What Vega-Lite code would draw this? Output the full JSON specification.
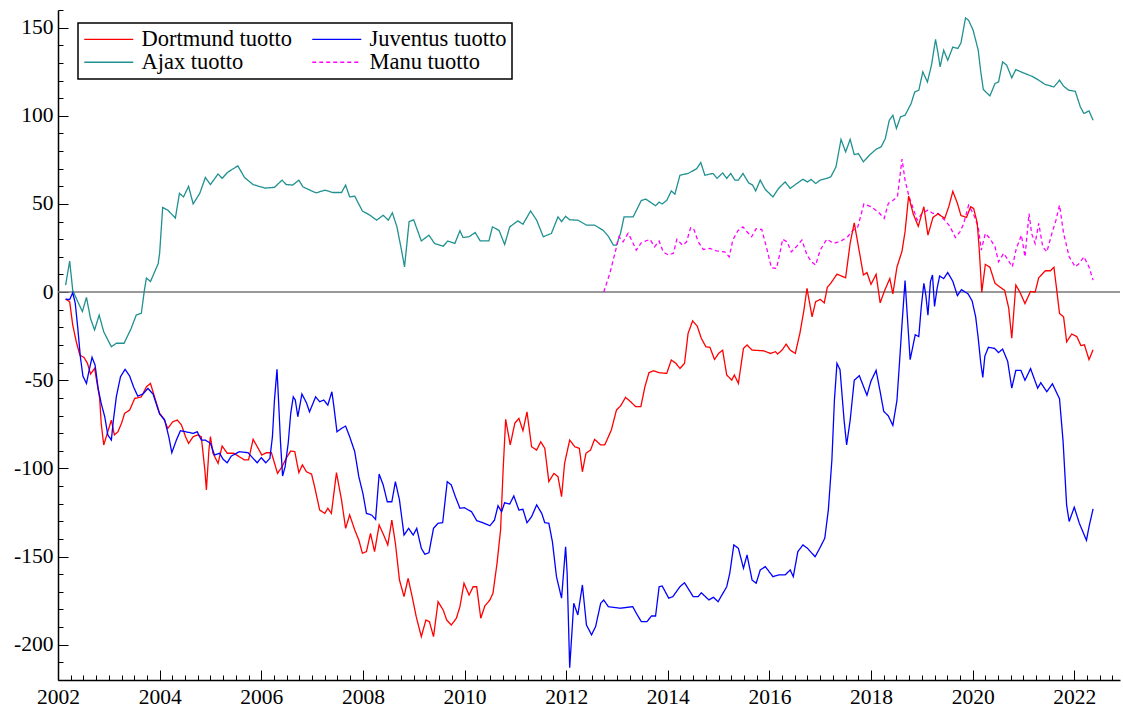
{
"$schema": "https://vega.github.io/schema/vega-lite/v6.json",
"width": 1062, "height": 670,
"autosize": {"type": "none"},
"padding": {"left": 58, "top": 10, "right": 3, "bottom": 28},
"background": "white",
"config": {"view": {"stroke": null}, "font": "Liberation Serif", "legend": {"strokeWidth": 1.5, "labelFont": "Liberation Serif", "labelFontSize": 22.5, "labelColor": "#000000"}},
"datasets": {"d": [
{"s":"Ajax tuotto","t":2002.15,"v":4},{"s":"Ajax tuotto","t":2002.23,"v":17.6},{"s":"Ajax tuotto","t":2002.29,"v":1},{"s":"Ajax tuotto","t":2002.39,"v":-5.5},{"s":"Ajax tuotto","t":2002.48,"v":-11},{"s":"Ajax tuotto","t":2002.56,"v":-3},{"s":"Ajax tuotto","t":2002.64,"v":-15},{"s":"Ajax tuotto","t":2002.72,"v":-21.5},{"s":"Ajax tuotto","t":2002.81,"v":-13},{"s":"Ajax tuotto","t":2002.9,"v":-22.5},{"s":"Ajax tuotto","t":2003.05,"v":-31},{"s":"Ajax tuotto","t":2003.15,"v":-29},{"s":"Ajax tuotto","t":2003.3,"v":-29},{"s":"Ajax tuotto","t":2003.44,"v":-20.6},{"s":"Ajax tuotto","t":2003.54,"v":-13},{"s":"Ajax tuotto","t":2003.64,"v":-12},{"s":"Ajax tuotto","t":2003.7,"v":1},{"s":"Ajax tuotto","t":2003.74,"v":8},{"s":"Ajax tuotto","t":2003.82,"v":6},{"s":"Ajax tuotto","t":2003.97,"v":16},{"s":"Ajax tuotto","t":2004.0,"v":22},{"s":"Ajax tuotto","t":2004.06,"v":48},{"s":"Ajax tuotto","t":2004.16,"v":46.5},{"s":"Ajax tuotto","t":2004.31,"v":42},{"s":"Ajax tuotto","t":2004.39,"v":56},{"s":"Ajax tuotto","t":2004.47,"v":54},{"s":"Ajax tuotto","t":2004.57,"v":60},{"s":"Ajax tuotto","t":2004.66,"v":50},{"s":"Ajax tuotto","t":2004.79,"v":56},{"s":"Ajax tuotto","t":2004.9,"v":65},{"s":"Ajax tuotto","t":2005.0,"v":61},{"s":"Ajax tuotto","t":2005.15,"v":67},{"s":"Ajax tuotto","t":2005.23,"v":64.5},{"s":"Ajax tuotto","t":2005.34,"v":68},{"s":"Ajax tuotto","t":2005.54,"v":71.6},{"s":"Ajax tuotto","t":2005.67,"v":65},{"s":"Ajax tuotto","t":2005.84,"v":61},{"s":"Ajax tuotto","t":2006.07,"v":59},{"s":"Ajax tuotto","t":2006.26,"v":59.4},{"s":"Ajax tuotto","t":2006.41,"v":63.5},{"s":"Ajax tuotto","t":2006.49,"v":61},{"s":"Ajax tuotto","t":2006.62,"v":60.7},{"s":"Ajax tuotto","t":2006.74,"v":63.5},{"s":"Ajax tuotto","t":2006.82,"v":59.7},{"s":"Ajax tuotto","t":2006.99,"v":57.4},{"s":"Ajax tuotto","t":2007.08,"v":56.3},{"s":"Ajax tuotto","t":2007.25,"v":57.8},{"s":"Ajax tuotto","t":2007.41,"v":56.5},{"s":"Ajax tuotto","t":2007.58,"v":56.5},{"s":"Ajax tuotto","t":2007.66,"v":60.7},{"s":"Ajax tuotto","t":2007.74,"v":54},{"s":"Ajax tuotto","t":2007.84,"v":54.4},{"s":"Ajax tuotto","t":2007.99,"v":46},{"s":"Ajax tuotto","t":2008.14,"v":43.6},{"s":"Ajax tuotto","t":2008.27,"v":40.8},{"s":"Ajax tuotto","t":2008.4,"v":43.6},{"s":"Ajax tuotto","t":2008.5,"v":40.8},{"s":"Ajax tuotto","t":2008.58,"v":45},{"s":"Ajax tuotto","t":2008.67,"v":37},{"s":"Ajax tuotto","t":2008.76,"v":23.8},{"s":"Ajax tuotto","t":2008.82,"v":14.3},{"s":"Ajax tuotto","t":2008.91,"v":40},{"s":"Ajax tuotto","t":2009.0,"v":41},{"s":"Ajax tuotto","t":2009.15,"v":29},{"s":"Ajax tuotto","t":2009.3,"v":32.3},{"s":"Ajax tuotto","t":2009.41,"v":27.6},{"s":"Ajax tuotto","t":2009.58,"v":26},{"s":"Ajax tuotto","t":2009.67,"v":29},{"s":"Ajax tuotto","t":2009.81,"v":27.6},{"s":"Ajax tuotto","t":2009.91,"v":34.8},{"s":"Ajax tuotto","t":2009.97,"v":31},{"s":"Ajax tuotto","t":2010.09,"v":31.4},{"s":"Ajax tuotto","t":2010.21,"v":33.8},{"s":"Ajax tuotto","t":2010.31,"v":29},{"s":"Ajax tuotto","t":2010.48,"v":29},{"s":"Ajax tuotto","t":2010.55,"v":37},{"s":"Ajax tuotto","t":2010.68,"v":35},{"s":"Ajax tuotto","t":2010.79,"v":27},{"s":"Ajax tuotto","t":2010.89,"v":37},{"s":"Ajax tuotto","t":2011.05,"v":40.4},{"s":"Ajax tuotto","t":2011.15,"v":38.5},{"s":"Ajax tuotto","t":2011.3,"v":46},{"s":"Ajax tuotto","t":2011.42,"v":40.8},{"s":"Ajax tuotto","t":2011.55,"v":31.4},{"s":"Ajax tuotto","t":2011.71,"v":33.3},{"s":"Ajax tuotto","t":2011.84,"v":42.7},{"s":"Ajax tuotto","t":2011.91,"v":40},{"s":"Ajax tuotto","t":2011.99,"v":43},{"s":"Ajax tuotto","t":2012.07,"v":41},{"s":"Ajax tuotto","t":2012.23,"v":40.8},{"s":"Ajax tuotto","t":2012.4,"v":38},{"s":"Ajax tuotto","t":2012.56,"v":38},{"s":"Ajax tuotto","t":2012.73,"v":35},{"s":"Ajax tuotto","t":2012.83,"v":31.7},{"s":"Ajax tuotto","t":2012.93,"v":26.6},{"s":"Ajax tuotto","t":2012.99,"v":26.6},{"s":"Ajax tuotto","t":2013.07,"v":33.3},{"s":"Ajax tuotto","t":2013.14,"v":42.7},{"s":"Ajax tuotto","t":2013.32,"v":42.7},{"s":"Ajax tuotto","t":2013.48,"v":52},{"s":"Ajax tuotto","t":2013.57,"v":52.7},{"s":"Ajax tuotto","t":2013.76,"v":49},{"s":"Ajax tuotto","t":2013.83,"v":51},{"s":"Ajax tuotto","t":2013.89,"v":50},{"s":"Ajax tuotto","t":2013.98,"v":52},{"s":"Ajax tuotto","t":2014.07,"v":57.4},{"s":"Ajax tuotto","t":2014.14,"v":55.5},{"s":"Ajax tuotto","t":2014.24,"v":66.3},{"s":"Ajax tuotto","t":2014.4,"v":67.3},{"s":"Ajax tuotto","t":2014.57,"v":70},{"s":"Ajax tuotto","t":2014.65,"v":73.5},{"s":"Ajax tuotto","t":2014.73,"v":66.3},{"s":"Ajax tuotto","t":2014.89,"v":67.3},{"s":"Ajax tuotto","t":2014.97,"v":64.5},{"s":"Ajax tuotto","t":2015.08,"v":67.6},{"s":"Ajax tuotto","t":2015.16,"v":64.5},{"s":"Ajax tuotto","t":2015.24,"v":67.3},{"s":"Ajax tuotto","t":2015.32,"v":63.5},{"s":"Ajax tuotto","t":2015.39,"v":63.5},{"s":"Ajax tuotto","t":2015.48,"v":67.3},{"s":"Ajax tuotto","t":2015.59,"v":62},{"s":"Ajax tuotto","t":2015.67,"v":60.7},{"s":"Ajax tuotto","t":2015.73,"v":57.4},{"s":"Ajax tuotto","t":2015.82,"v":63.5},{"s":"Ajax tuotto","t":2015.92,"v":58.2},{"s":"Ajax tuotto","t":2016.07,"v":54},{"s":"Ajax tuotto","t":2016.18,"v":58.8},{"s":"Ajax tuotto","t":2016.31,"v":62.5},{"s":"Ajax tuotto","t":2016.41,"v":58.8},{"s":"Ajax tuotto","t":2016.54,"v":61.6},{"s":"Ajax tuotto","t":2016.66,"v":64},{"s":"Ajax tuotto","t":2016.75,"v":62.5},{"s":"Ajax tuotto","t":2016.82,"v":63.9},{"s":"Ajax tuotto","t":2016.91,"v":61.6},{"s":"Ajax tuotto","t":2017.0,"v":63.5},{"s":"Ajax tuotto","t":2017.13,"v":64.5},{"s":"Ajax tuotto","t":2017.21,"v":65.4},{"s":"Ajax tuotto","t":2017.31,"v":71},{"s":"Ajax tuotto","t":2017.41,"v":86.6},{"s":"Ajax tuotto","t":2017.5,"v":79.5},{"s":"Ajax tuotto","t":2017.59,"v":86.6},{"s":"Ajax tuotto","t":2017.67,"v":78},{"s":"Ajax tuotto","t":2017.75,"v":78.6},{"s":"Ajax tuotto","t":2017.85,"v":73.9},{"s":"Ajax tuotto","t":2017.97,"v":77.7},{"s":"Ajax tuotto","t":2018.1,"v":81},{"s":"Ajax tuotto","t":2018.2,"v":82.4},{"s":"Ajax tuotto","t":2018.28,"v":87},{"s":"Ajax tuotto","t":2018.36,"v":97.5},{"s":"Ajax tuotto","t":2018.43,"v":100.3},{"s":"Ajax tuotto","t":2018.5,"v":92.8},{"s":"Ajax tuotto","t":2018.58,"v":99.4},{"s":"Ajax tuotto","t":2018.67,"v":100.3},{"s":"Ajax tuotto","t":2018.79,"v":107},{"s":"Ajax tuotto","t":2018.86,"v":113.5},{"s":"Ajax tuotto","t":2018.94,"v":114.5},{"s":"Ajax tuotto","t":2019.02,"v":124.9},{"s":"Ajax tuotto","t":2019.11,"v":119.2},{"s":"Ajax tuotto","t":2019.19,"v":128.7},{"s":"Ajax tuotto","t":2019.27,"v":143.3},{"s":"Ajax tuotto","t":2019.32,"v":135.3},{"s":"Ajax tuotto","t":2019.36,"v":127.7},{"s":"Ajax tuotto","t":2019.43,"v":137.2},{"s":"Ajax tuotto","t":2019.51,"v":131.5},{"s":"Ajax tuotto","t":2019.61,"v":139},{"s":"Ajax tuotto","t":2019.71,"v":138.2},{"s":"Ajax tuotto","t":2019.77,"v":141.3},{"s":"Ajax tuotto","t":2019.86,"v":155.5},{"s":"Ajax tuotto","t":2019.92,"v":154.2},{"s":"Ajax tuotto","t":2020.01,"v":148.5},{"s":"Ajax tuotto","t":2020.11,"v":137.2},{"s":"Ajax tuotto","t":2020.16,"v":124.9},{"s":"Ajax tuotto","t":2020.21,"v":114.9},{"s":"Ajax tuotto","t":2020.34,"v":111.3},{"s":"Ajax tuotto","t":2020.44,"v":118.3},{"s":"Ajax tuotto","t":2020.51,"v":119.2},{"s":"Ajax tuotto","t":2020.59,"v":130.6},{"s":"Ajax tuotto","t":2020.67,"v":128.7},{"s":"Ajax tuotto","t":2020.77,"v":121.5},{"s":"Ajax tuotto","t":2020.85,"v":126.2},{"s":"Ajax tuotto","t":2021.0,"v":124.3},{"s":"Ajax tuotto","t":2021.17,"v":122.4},{"s":"Ajax tuotto","t":2021.3,"v":120.2},{"s":"Ajax tuotto","t":2021.43,"v":117.7},{"s":"Ajax tuotto","t":2021.6,"v":116.4},{"s":"Ajax tuotto","t":2021.71,"v":120.2},{"s":"Ajax tuotto","t":2021.79,"v":116.8},{"s":"Ajax tuotto","t":2021.89,"v":114.5},{"s":"Ajax tuotto","t":2022.02,"v":113.9},{"s":"Ajax tuotto","t":2022.12,"v":105},{"s":"Ajax tuotto","t":2022.19,"v":101.3},{"s":"Ajax tuotto","t":2022.29,"v":102.8},{"s":"Ajax tuotto","t":2022.37,"v":97.5},
{"s":"Manu tuotto","t":2012.74,"v":0},{"s":"Manu tuotto","t":2012.86,"v":10.6},{"s":"Manu tuotto","t":2012.96,"v":22},{"s":"Manu tuotto","t":2013.04,"v":31.4},{"s":"Manu tuotto","t":2013.12,"v":28.5},{"s":"Manu tuotto","t":2013.22,"v":33.3},{"s":"Manu tuotto","t":2013.29,"v":29.5},{"s":"Manu tuotto","t":2013.38,"v":23.8},{"s":"Manu tuotto","t":2013.48,"v":28},{"s":"Manu tuotto","t":2013.65,"v":29.9},{"s":"Manu tuotto","t":2013.74,"v":25.7},{"s":"Manu tuotto","t":2013.83,"v":29},{"s":"Manu tuotto","t":2013.91,"v":22.8},{"s":"Manu tuotto","t":2014.01,"v":21},{"s":"Manu tuotto","t":2014.11,"v":22},{"s":"Manu tuotto","t":2014.18,"v":30},{"s":"Manu tuotto","t":2014.29,"v":26.6},{"s":"Manu tuotto","t":2014.37,"v":28.5},{"s":"Manu tuotto","t":2014.45,"v":36.5},{"s":"Manu tuotto","t":2014.51,"v":36},{"s":"Manu tuotto","t":2014.6,"v":28.5},{"s":"Manu tuotto","t":2014.7,"v":24.2},{"s":"Manu tuotto","t":2014.83,"v":24.8},{"s":"Manu tuotto","t":2014.96,"v":23.4},{"s":"Manu tuotto","t":2015.12,"v":22.8},{"s":"Manu tuotto","t":2015.21,"v":20},{"s":"Manu tuotto","t":2015.28,"v":29.5},{"s":"Manu tuotto","t":2015.38,"v":34.8},{"s":"Manu tuotto","t":2015.48,"v":37},{"s":"Manu tuotto","t":2015.56,"v":34.2},{"s":"Manu tuotto","t":2015.65,"v":31.4},{"s":"Manu tuotto","t":2015.74,"v":36},{"s":"Manu tuotto","t":2015.85,"v":35.5},{"s":"Manu tuotto","t":2015.94,"v":25.7},{"s":"Manu tuotto","t":2016.04,"v":13.8},{"s":"Manu tuotto","t":2016.14,"v":13.4},{"s":"Manu tuotto","t":2016.2,"v":21},{"s":"Manu tuotto","t":2016.26,"v":30},{"s":"Manu tuotto","t":2016.35,"v":28.5},{"s":"Manu tuotto","t":2016.43,"v":22.8},{"s":"Manu tuotto","t":2016.53,"v":25.7},{"s":"Manu tuotto","t":2016.64,"v":29.5},{"s":"Manu tuotto","t":2016.74,"v":21},{"s":"Manu tuotto","t":2016.83,"v":17.2},{"s":"Manu tuotto","t":2016.91,"v":15.3},{"s":"Manu tuotto","t":2017.0,"v":23.8},{"s":"Manu tuotto","t":2017.13,"v":30},{"s":"Manu tuotto","t":2017.27,"v":27.6},{"s":"Manu tuotto","t":2017.41,"v":29},{"s":"Manu tuotto","t":2017.54,"v":31.4},{"s":"Manu tuotto","t":2017.64,"v":35},{"s":"Manu tuotto","t":2017.74,"v":37},{"s":"Manu tuotto","t":2017.86,"v":50},{"s":"Manu tuotto","t":2018.0,"v":48.4},{"s":"Manu tuotto","t":2018.14,"v":45.5},{"s":"Manu tuotto","t":2018.26,"v":41.8},{"s":"Manu tuotto","t":2018.34,"v":50.3},{"s":"Manu tuotto","t":2018.43,"v":52},{"s":"Manu tuotto","t":2018.52,"v":54},{"s":"Manu tuotto","t":2018.61,"v":75.4},{"s":"Manu tuotto","t":2018.67,"v":63.5},{"s":"Manu tuotto","t":2018.74,"v":55},{"s":"Manu tuotto","t":2018.83,"v":47.4},{"s":"Manu tuotto","t":2018.91,"v":40.8},{"s":"Manu tuotto","t":2019.0,"v":44.6},{"s":"Manu tuotto","t":2019.12,"v":46.5},{"s":"Manu tuotto","t":2019.22,"v":44.6},{"s":"Manu tuotto","t":2019.32,"v":44.6},{"s":"Manu tuotto","t":2019.45,"v":40.8},{"s":"Manu tuotto","t":2019.55,"v":37.4},{"s":"Manu tuotto","t":2019.66,"v":31},{"s":"Manu tuotto","t":2019.75,"v":34.2},{"s":"Manu tuotto","t":2019.82,"v":38.5},{"s":"Manu tuotto","t":2019.92,"v":49.3},{"s":"Manu tuotto","t":2020.01,"v":44.6},{"s":"Manu tuotto","t":2020.11,"v":37},{"s":"Manu tuotto","t":2020.17,"v":23.8},{"s":"Manu tuotto","t":2020.25,"v":33.3},{"s":"Manu tuotto","t":2020.34,"v":30.4},{"s":"Manu tuotto","t":2020.44,"v":25.7},{"s":"Manu tuotto","t":2020.51,"v":17.2},{"s":"Manu tuotto","t":2020.61,"v":22},{"s":"Manu tuotto","t":2020.7,"v":18.1},{"s":"Manu tuotto","t":2020.78,"v":14.3},{"s":"Manu tuotto","t":2020.86,"v":24.8},{"s":"Manu tuotto","t":2020.96,"v":32.3},{"s":"Manu tuotto","t":2021.03,"v":20},{"s":"Manu tuotto","t":2021.11,"v":44.6},{"s":"Manu tuotto","t":2021.16,"v":33.3},{"s":"Manu tuotto","t":2021.23,"v":27.6},{"s":"Manu tuotto","t":2021.3,"v":39},{"s":"Manu tuotto","t":2021.38,"v":25.7},{"s":"Manu tuotto","t":2021.46,"v":22.8},{"s":"Manu tuotto","t":2021.56,"v":33.3},{"s":"Manu tuotto","t":2021.64,"v":40.8},{"s":"Manu tuotto","t":2021.71,"v":49.3},{"s":"Manu tuotto","t":2021.79,"v":33.3},{"s":"Manu tuotto","t":2021.9,"v":20},{"s":"Manu tuotto","t":2022.02,"v":14.3},{"s":"Manu tuotto","t":2022.1,"v":16.3},{"s":"Manu tuotto","t":2022.19,"v":20},{"s":"Manu tuotto","t":2022.29,"v":14.3},{"s":"Manu tuotto","t":2022.37,"v":6.8},
{"s":"Dortmund tuotto","t":2002.15,"v":-4},{"s":"Dortmund tuotto","t":2002.23,"v":-5.5},{"s":"Dortmund tuotto","t":2002.29,"v":-18.7},{"s":"Dortmund tuotto","t":2002.36,"v":-28.2},{"s":"Dortmund tuotto","t":2002.43,"v":-35.7},{"s":"Dortmund tuotto","t":2002.51,"v":-37},{"s":"Dortmund tuotto","t":2002.58,"v":-40.4},{"s":"Dortmund tuotto","t":2002.64,"v":-46.5},{"s":"Dortmund tuotto","t":2002.72,"v":-43.3},{"s":"Dortmund tuotto","t":2002.77,"v":-51.8},{"s":"Dortmund tuotto","t":2002.82,"v":-60.3},{"s":"Dortmund tuotto","t":2002.85,"v":-74.4},{"s":"Dortmund tuotto","t":2002.9,"v":-86.7},{"s":"Dortmund tuotto","t":2002.95,"v":-82},{"s":"Dortmund tuotto","t":2003.05,"v":-72.6},{"s":"Dortmund tuotto","t":2003.11,"v":-81},{"s":"Dortmund tuotto","t":2003.18,"v":-79.2},{"s":"Dortmund tuotto","t":2003.25,"v":-74.4},{"s":"Dortmund tuotto","t":2003.31,"v":-68.8},{"s":"Dortmund tuotto","t":2003.41,"v":-66.9},{"s":"Dortmund tuotto","t":2003.51,"v":-60.3},{"s":"Dortmund tuotto","t":2003.64,"v":-59.4},{"s":"Dortmund tuotto","t":2003.74,"v":-53.7},{"s":"Dortmund tuotto","t":2003.82,"v":-51.8},{"s":"Dortmund tuotto","t":2003.9,"v":-59.4},{"s":"Dortmund tuotto","t":2004.0,"v":-68.8},{"s":"Dortmund tuotto","t":2004.08,"v":-71.6},{"s":"Dortmund tuotto","t":2004.16,"v":-77.3},{"s":"Dortmund tuotto","t":2004.26,"v":-73.5},{"s":"Dortmund tuotto","t":2004.35,"v":-72.6},{"s":"Dortmund tuotto","t":2004.43,"v":-75.4},{"s":"Dortmund tuotto","t":2004.51,"v":-82},{"s":"Dortmund tuotto","t":2004.57,"v":-85.8},{"s":"Dortmund tuotto","t":2004.66,"v":-82},{"s":"Dortmund tuotto","t":2004.75,"v":-81},{"s":"Dortmund tuotto","t":2004.82,"v":-82},{"s":"Dortmund tuotto","t":2004.89,"v":-100.9},{"s":"Dortmund tuotto","t":2004.92,"v":-112.2},{"s":"Dortmund tuotto","t":2004.97,"v":-89.6},{"s":"Dortmund tuotto","t":2005.0,"v":-82},{"s":"Dortmund tuotto","t":2005.05,"v":-91.4},{"s":"Dortmund tuotto","t":2005.15,"v":-97.1},{"s":"Dortmund tuotto","t":2005.23,"v":-87.3},{"s":"Dortmund tuotto","t":2005.33,"v":-91.4},{"s":"Dortmund tuotto","t":2005.46,"v":-91.4},{"s":"Dortmund tuotto","t":2005.57,"v":-93.4},{"s":"Dortmund tuotto","t":2005.67,"v":-95.2},{"s":"Dortmund tuotto","t":2005.75,"v":-95.2},{"s":"Dortmund tuotto","t":2005.84,"v":-83.5},{"s":"Dortmund tuotto","t":2005.94,"v":-88.6},{"s":"Dortmund tuotto","t":2006.01,"v":-92.4},{"s":"Dortmund tuotto","t":2006.1,"v":-91.1},{"s":"Dortmund tuotto","t":2006.2,"v":-91.1},{"s":"Dortmund tuotto","t":2006.32,"v":-102.8},{"s":"Dortmund tuotto","t":2006.41,"v":-99},{"s":"Dortmund tuotto","t":2006.49,"v":-94.3},{"s":"Dortmund tuotto","t":2006.58,"v":-90.1},{"s":"Dortmund tuotto","t":2006.66,"v":-90.5},{"s":"Dortmund tuotto","t":2006.74,"v":-102.4},{"s":"Dortmund tuotto","t":2006.81,"v":-98},{"s":"Dortmund tuotto","t":2006.89,"v":-101.9},{"s":"Dortmund tuotto","t":2006.99,"v":-103.2},{"s":"Dortmund tuotto","t":2007.05,"v":-110.4},{"s":"Dortmund tuotto","t":2007.15,"v":-123.6},{"s":"Dortmund tuotto","t":2007.25,"v":-125.5},{"s":"Dortmund tuotto","t":2007.31,"v":-122.6},{"s":"Dortmund tuotto","t":2007.38,"v":-125.5},{"s":"Dortmund tuotto","t":2007.48,"v":-102.4},{"s":"Dortmund tuotto","t":2007.58,"v":-117.9},{"s":"Dortmund tuotto","t":2007.66,"v":-134},{"s":"Dortmund tuotto","t":2007.74,"v":-126.4},{"s":"Dortmund tuotto","t":2007.84,"v":-134.9},{"s":"Dortmund tuotto","t":2007.92,"v":-140.6},{"s":"Dortmund tuotto","t":2007.99,"v":-148.1},{"s":"Dortmund tuotto","t":2008.07,"v":-147.2},{"s":"Dortmund tuotto","t":2008.15,"v":-136.8},{"s":"Dortmund tuotto","t":2008.23,"v":-147.2},{"s":"Dortmund tuotto","t":2008.32,"v":-132.1},{"s":"Dortmund tuotto","t":2008.41,"v":-137.8},{"s":"Dortmund tuotto","t":2008.49,"v":-143.4},{"s":"Dortmund tuotto","t":2008.57,"v":-129.3},{"s":"Dortmund tuotto","t":2008.64,"v":-142.5},{"s":"Dortmund tuotto","t":2008.72,"v":-163.3},{"s":"Dortmund tuotto","t":2008.81,"v":-172.7},{"s":"Dortmund tuotto","t":2008.89,"v":-162.3},{"s":"Dortmund tuotto","t":2008.97,"v":-172.7},{"s":"Dortmund tuotto","t":2009.05,"v":-184.1},{"s":"Dortmund tuotto","t":2009.15,"v":-195.4},{"s":"Dortmund tuotto","t":2009.24,"v":-186},{"s":"Dortmund tuotto","t":2009.31,"v":-186.9},{"s":"Dortmund tuotto","t":2009.39,"v":-195.4},{"s":"Dortmund tuotto","t":2009.48,"v":-175.6},{"s":"Dortmund tuotto","t":2009.58,"v":-180.3},{"s":"Dortmund tuotto","t":2009.65,"v":-186},{"s":"Dortmund tuotto","t":2009.74,"v":-188.8},{"s":"Dortmund tuotto","t":2009.84,"v":-185},{"s":"Dortmund tuotto","t":2009.91,"v":-178.4},{"s":"Dortmund tuotto","t":2009.99,"v":-165.1},{"s":"Dortmund tuotto","t":2010.09,"v":-171.8},{"s":"Dortmund tuotto","t":2010.17,"v":-167.1},{"s":"Dortmund tuotto","t":2010.24,"v":-167.1},{"s":"Dortmund tuotto","t":2010.32,"v":-185},{"s":"Dortmund tuotto","t":2010.4,"v":-178},{"s":"Dortmund tuotto","t":2010.5,"v":-174.6},{"s":"Dortmund tuotto","t":2010.56,"v":-170.8},{"s":"Dortmund tuotto","t":2010.64,"v":-153.8},{"s":"Dortmund tuotto","t":2010.71,"v":-134.9},{"s":"Dortmund tuotto","t":2010.76,"v":-100.9},{"s":"Dortmund tuotto","t":2010.81,"v":-72.2},{"s":"Dortmund tuotto","t":2010.9,"v":-86.7},{"s":"Dortmund tuotto","t":2010.99,"v":-74.4},{"s":"Dortmund tuotto","t":2011.07,"v":-71.6},{"s":"Dortmund tuotto","t":2011.15,"v":-78.6},{"s":"Dortmund tuotto","t":2011.23,"v":-67.9},{"s":"Dortmund tuotto","t":2011.32,"v":-87.7},{"s":"Dortmund tuotto","t":2011.42,"v":-89.6},{"s":"Dortmund tuotto","t":2011.5,"v":-84.9},{"s":"Dortmund tuotto","t":2011.58,"v":-88.6},{"s":"Dortmund tuotto","t":2011.66,"v":-107.5},{"s":"Dortmund tuotto","t":2011.76,"v":-102.8},{"s":"Dortmund tuotto","t":2011.84,"v":-104.7},{"s":"Dortmund tuotto","t":2011.91,"v":-116},{"s":"Dortmund tuotto","t":2011.97,"v":-97.1},{"s":"Dortmund tuotto","t":2012.07,"v":-83.9},{"s":"Dortmund tuotto","t":2012.17,"v":-87.7},{"s":"Dortmund tuotto","t":2012.26,"v":-88.6},{"s":"Dortmund tuotto","t":2012.32,"v":-101.9},{"s":"Dortmund tuotto","t":2012.39,"v":-91.4},{"s":"Dortmund tuotto","t":2012.48,"v":-89.6},{"s":"Dortmund tuotto","t":2012.56,"v":-83.5},{"s":"Dortmund tuotto","t":2012.68,"v":-86.7},{"s":"Dortmund tuotto","t":2012.76,"v":-86.7},{"s":"Dortmund tuotto","t":2012.89,"v":-78.2},{"s":"Dortmund tuotto","t":2012.99,"v":-66.9},{"s":"Dortmund tuotto","t":2013.07,"v":-64.6},{"s":"Dortmund tuotto","t":2013.17,"v":-59.7},{"s":"Dortmund tuotto","t":2013.27,"v":-62.2},{"s":"Dortmund tuotto","t":2013.37,"v":-65},{"s":"Dortmund tuotto","t":2013.47,"v":-65},{"s":"Dortmund tuotto","t":2013.55,"v":-53.7},{"s":"Dortmund tuotto","t":2013.63,"v":-45.7},{"s":"Dortmund tuotto","t":2013.72,"v":-44.6},{"s":"Dortmund tuotto","t":2013.83,"v":-45.7},{"s":"Dortmund tuotto","t":2013.98,"v":-46.1},{"s":"Dortmund tuotto","t":2014.07,"v":-38.5},{"s":"Dortmund tuotto","t":2014.16,"v":-40.4},{"s":"Dortmund tuotto","t":2014.24,"v":-43.3},{"s":"Dortmund tuotto","t":2014.33,"v":-40.4},{"s":"Dortmund tuotto","t":2014.4,"v":-23.4},{"s":"Dortmund tuotto","t":2014.49,"v":-16.3},{"s":"Dortmund tuotto","t":2014.58,"v":-19.3},{"s":"Dortmund tuotto","t":2014.66,"v":-26.2},{"s":"Dortmund tuotto","t":2014.75,"v":-31},{"s":"Dortmund tuotto","t":2014.83,"v":-31.3},{"s":"Dortmund tuotto","t":2014.92,"v":-38.2},{"s":"Dortmund tuotto","t":2015.0,"v":-34.8},{"s":"Dortmund tuotto","t":2015.08,"v":-32.9},{"s":"Dortmund tuotto","t":2015.16,"v":-47},{"s":"Dortmund tuotto","t":2015.26,"v":-49.9},{"s":"Dortmund tuotto","t":2015.31,"v":-47},{"s":"Dortmund tuotto","t":2015.39,"v":-51.8},{"s":"Dortmund tuotto","t":2015.49,"v":-31.9},{"s":"Dortmund tuotto","t":2015.56,"v":-30},{"s":"Dortmund tuotto","t":2015.66,"v":-32.9},{"s":"Dortmund tuotto","t":2015.89,"v":-33.3},{"s":"Dortmund tuotto","t":2016.02,"v":-34.8},{"s":"Dortmund tuotto","t":2016.12,"v":-33.8},{"s":"Dortmund tuotto","t":2016.16,"v":-35.1},{"s":"Dortmund tuotto","t":2016.25,"v":-32.9},{"s":"Dortmund tuotto","t":2016.33,"v":-29.5},{"s":"Dortmund tuotto","t":2016.41,"v":-32.9},{"s":"Dortmund tuotto","t":2016.51,"v":-34.8},{"s":"Dortmund tuotto","t":2016.6,"v":-23.4},{"s":"Dortmund tuotto","t":2016.68,"v":-10.2},{"s":"Dortmund tuotto","t":2016.74,"v":2.1},{"s":"Dortmund tuotto","t":2016.84,"v":-14},{"s":"Dortmund tuotto","t":2016.91,"v":-5.5},{"s":"Dortmund tuotto","t":2017.0,"v":-4.1},{"s":"Dortmund tuotto","t":2017.08,"v":-6.1},{"s":"Dortmund tuotto","t":2017.14,"v":2.7},{"s":"Dortmund tuotto","t":2017.22,"v":5.5},{"s":"Dortmund tuotto","t":2017.33,"v":10.2},{"s":"Dortmund tuotto","t":2017.5,"v":8.1},{"s":"Dortmund tuotto","t":2017.59,"v":27.8},{"s":"Dortmund tuotto","t":2017.67,"v":39.3},{"s":"Dortmund tuotto","t":2017.75,"v":26.2},{"s":"Dortmund tuotto","t":2017.85,"v":9.7},{"s":"Dortmund tuotto","t":2017.92,"v":11.1},{"s":"Dortmund tuotto","t":2018.0,"v":4.4},{"s":"Dortmund tuotto","t":2018.1,"v":10.1},{"s":"Dortmund tuotto","t":2018.18,"v":-6.1},{"s":"Dortmund tuotto","t":2018.27,"v":1},{"s":"Dortmund tuotto","t":2018.37,"v":7.7},{"s":"Dortmund tuotto","t":2018.43,"v":-1},{"s":"Dortmund tuotto","t":2018.51,"v":14.1},{"s":"Dortmund tuotto","t":2018.61,"v":23.2},{"s":"Dortmund tuotto","t":2018.67,"v":34.3},{"s":"Dortmund tuotto","t":2018.74,"v":54.5},{"s":"Dortmund tuotto","t":2018.83,"v":44.4},{"s":"Dortmund tuotto","t":2018.93,"v":37.3},{"s":"Dortmund tuotto","t":2018.99,"v":43.4},{"s":"Dortmund tuotto","t":2019.04,"v":48.4},{"s":"Dortmund tuotto","t":2019.12,"v":32.3},{"s":"Dortmund tuotto","t":2019.22,"v":42.4},{"s":"Dortmund tuotto","t":2019.32,"v":44.4},{"s":"Dortmund tuotto","t":2019.45,"v":41.8},{"s":"Dortmund tuotto","t":2019.53,"v":48.4},{"s":"Dortmund tuotto","t":2019.61,"v":57.1},{"s":"Dortmund tuotto","t":2019.7,"v":50.4},{"s":"Dortmund tuotto","t":2019.77,"v":43.4},{"s":"Dortmund tuotto","t":2019.88,"v":42.4},{"s":"Dortmund tuotto","t":2019.96,"v":48.4},{"s":"Dortmund tuotto","t":2020.02,"v":47.4},{"s":"Dortmund tuotto","t":2020.09,"v":39.3},{"s":"Dortmund tuotto","t":2020.13,"v":24.2},{"s":"Dortmund tuotto","t":2020.18,"v":0},{"s":"Dortmund tuotto","t":2020.25,"v":15.7},{"s":"Dortmund tuotto","t":2020.34,"v":14.1},{"s":"Dortmund tuotto","t":2020.44,"v":5},{"s":"Dortmund tuotto","t":2020.53,"v":3},{"s":"Dortmund tuotto","t":2020.63,"v":1},{"s":"Dortmund tuotto","t":2020.71,"v":-9.1},{"s":"Dortmund tuotto","t":2020.77,"v":-26.2},{"s":"Dortmund tuotto","t":2020.85,"v":4},{"s":"Dortmund tuotto","t":2020.93,"v":0},{"s":"Dortmund tuotto","t":2021.03,"v":-6.5},{"s":"Dortmund tuotto","t":2021.14,"v":0.4},{"s":"Dortmund tuotto","t":2021.23,"v":0},{"s":"Dortmund tuotto","t":2021.3,"v":8.1},{"s":"Dortmund tuotto","t":2021.43,"v":12.1},{"s":"Dortmund tuotto","t":2021.53,"v":12.1},{"s":"Dortmund tuotto","t":2021.6,"v":14.1},{"s":"Dortmund tuotto","t":2021.66,"v":0},{"s":"Dortmund tuotto","t":2021.71,"v":-12.1},{"s":"Dortmund tuotto","t":2021.79,"v":-14.1},{"s":"Dortmund tuotto","t":2021.85,"v":-28.2},{"s":"Dortmund tuotto","t":2021.95,"v":-23.8},{"s":"Dortmund tuotto","t":2022.05,"v":-25.2},{"s":"Dortmund tuotto","t":2022.13,"v":-30.3},{"s":"Dortmund tuotto","t":2022.2,"v":-29.9},{"s":"Dortmund tuotto","t":2022.29,"v":-38.3},{"s":"Dortmund tuotto","t":2022.37,"v":-32.7},
{"s":"Juventus tuotto","t":2002.15,"v":-4},{"s":"Juventus tuotto","t":2002.23,"v":-4.2},{"s":"Juventus tuotto","t":2002.29,"v":-0.4},{"s":"Juventus tuotto","t":2002.34,"v":-6.4},{"s":"Juventus tuotto","t":2002.39,"v":-20.6},{"s":"Juventus tuotto","t":2002.44,"v":-36.7},{"s":"Juventus tuotto","t":2002.49,"v":-47.6},{"s":"Juventus tuotto","t":2002.56,"v":-51.8},{"s":"Juventus tuotto","t":2002.6,"v":-46.1},{"s":"Juventus tuotto","t":2002.67,"v":-37},{"s":"Juventus tuotto","t":2002.73,"v":-41.4},{"s":"Juventus tuotto","t":2002.79,"v":-54.6},{"s":"Juventus tuotto","t":2002.85,"v":-63.1},{"s":"Juventus tuotto","t":2002.92,"v":-70.7},{"s":"Juventus tuotto","t":2002.98,"v":-81},{"s":"Juventus tuotto","t":2003.05,"v":-83.9},{"s":"Juventus tuotto","t":2003.09,"v":-72.6},{"s":"Juventus tuotto","t":2003.15,"v":-59},{"s":"Juventus tuotto","t":2003.23,"v":-48},{"s":"Juventus tuotto","t":2003.32,"v":-43.8},{"s":"Juventus tuotto","t":2003.41,"v":-47.6},{"s":"Juventus tuotto","t":2003.49,"v":-54},{"s":"Juventus tuotto","t":2003.57,"v":-59},{"s":"Juventus tuotto","t":2003.67,"v":-57.8},{"s":"Juventus tuotto","t":2003.77,"v":-54.6},{"s":"Juventus tuotto","t":2003.87,"v":-57.8},{"s":"Juventus tuotto","t":2004.0,"v":-69.2},{"s":"Juventus tuotto","t":2004.1,"v":-72.6},{"s":"Juventus tuotto","t":2004.18,"v":-82},{"s":"Juventus tuotto","t":2004.24,"v":-91.1},{"s":"Juventus tuotto","t":2004.33,"v":-83.9},{"s":"Juventus tuotto","t":2004.41,"v":-78.6},{"s":"Juventus tuotto","t":2004.56,"v":-79.5},{"s":"Juventus tuotto","t":2004.66,"v":-80.1},{"s":"Juventus tuotto","t":2004.74,"v":-79.2},{"s":"Juventus tuotto","t":2004.82,"v":-83.9},{"s":"Juventus tuotto","t":2004.9,"v":-83.9},{"s":"Juventus tuotto","t":2005.0,"v":-85.8},{"s":"Juventus tuotto","t":2005.08,"v":-92.4},{"s":"Juventus tuotto","t":2005.18,"v":-91.4},{"s":"Juventus tuotto","t":2005.25,"v":-94.8},{"s":"Juventus tuotto","t":2005.33,"v":-96.8},{"s":"Juventus tuotto","t":2005.41,"v":-93},{"s":"Juventus tuotto","t":2005.57,"v":-90.5},{"s":"Juventus tuotto","t":2005.74,"v":-91.1},{"s":"Juventus tuotto","t":2005.84,"v":-94.3},{"s":"Juventus tuotto","t":2005.92,"v":-96.8},{"s":"Juventus tuotto","t":2006.0,"v":-93.9},{"s":"Juventus tuotto","t":2006.09,"v":-96.8},{"s":"Juventus tuotto","t":2006.17,"v":-94.3},{"s":"Juventus tuotto","t":2006.22,"v":-82},{"s":"Juventus tuotto","t":2006.26,"v":-61.2},{"s":"Juventus tuotto","t":2006.31,"v":-43.8},{"s":"Juventus tuotto","t":2006.34,"v":-61.2},{"s":"Juventus tuotto","t":2006.38,"v":-85.8},{"s":"Juventus tuotto","t":2006.42,"v":-104.3},{"s":"Juventus tuotto","t":2006.47,"v":-99},{"s":"Juventus tuotto","t":2006.53,"v":-85.8},{"s":"Juventus tuotto","t":2006.58,"v":-68.8},{"s":"Juventus tuotto","t":2006.63,"v":-59.4},{"s":"Juventus tuotto","t":2006.67,"v":-61.2},{"s":"Juventus tuotto","t":2006.72,"v":-70.7},{"s":"Juventus tuotto","t":2006.8,"v":-57.8},{"s":"Juventus tuotto","t":2006.89,"v":-62.8},{"s":"Juventus tuotto","t":2006.95,"v":-67.9},{"s":"Juventus tuotto","t":2007.07,"v":-59.4},{"s":"Juventus tuotto","t":2007.15,"v":-62.2},{"s":"Juventus tuotto","t":2007.23,"v":-61.2},{"s":"Juventus tuotto","t":2007.31,"v":-64.1},{"s":"Juventus tuotto","t":2007.39,"v":-56.5},{"s":"Juventus tuotto","t":2007.43,"v":-65},{"s":"Juventus tuotto","t":2007.49,"v":-79.2},{"s":"Juventus tuotto","t":2007.58,"v":-77.3},{"s":"Juventus tuotto","t":2007.66,"v":-76},{"s":"Juventus tuotto","t":2007.74,"v":-82},{"s":"Juventus tuotto","t":2007.84,"v":-90.5},{"s":"Juventus tuotto","t":2007.92,"v":-104.7},{"s":"Juventus tuotto","t":2008.0,"v":-114.1},{"s":"Juventus tuotto","t":2008.07,"v":-125.5},{"s":"Juventus tuotto","t":2008.17,"v":-126.4},{"s":"Juventus tuotto","t":2008.25,"v":-128.9},{"s":"Juventus tuotto","t":2008.32,"v":-103.2},{"s":"Juventus tuotto","t":2008.4,"v":-109.4},{"s":"Juventus tuotto","t":2008.48,"v":-118.9},{"s":"Juventus tuotto","t":2008.57,"v":-118.9},{"s":"Juventus tuotto","t":2008.64,"v":-107.5},{"s":"Juventus tuotto","t":2008.72,"v":-117.9},{"s":"Juventus tuotto","t":2008.81,"v":-137.8},{"s":"Juventus tuotto","t":2008.9,"v":-134},{"s":"Juventus tuotto","t":2008.99,"v":-137.8},{"s":"Juventus tuotto","t":2009.06,"v":-134},{"s":"Juventus tuotto","t":2009.15,"v":-145.3},{"s":"Juventus tuotto","t":2009.22,"v":-148.7},{"s":"Juventus tuotto","t":2009.3,"v":-147.8},{"s":"Juventus tuotto","t":2009.39,"v":-134},{"s":"Juventus tuotto","t":2009.48,"v":-131.1},{"s":"Juventus tuotto","t":2009.57,"v":-130.8},{"s":"Juventus tuotto","t":2009.66,"v":-107.5},{"s":"Juventus tuotto","t":2009.74,"v":-109.4},{"s":"Juventus tuotto","t":2009.82,"v":-116},{"s":"Juventus tuotto","t":2009.91,"v":-122.6},{"s":"Juventus tuotto","t":2010.0,"v":-122.3},{"s":"Juventus tuotto","t":2010.14,"v":-124.6},{"s":"Juventus tuotto","t":2010.24,"v":-129.6},{"s":"Juventus tuotto","t":2010.36,"v":-130.8},{"s":"Juventus tuotto","t":2010.5,"v":-132.5},{"s":"Juventus tuotto","t":2010.59,"v":-129.3},{"s":"Juventus tuotto","t":2010.66,"v":-121.1},{"s":"Juventus tuotto","t":2010.73,"v":-124.6},{"s":"Juventus tuotto","t":2010.79,"v":-119.4},{"s":"Juventus tuotto","t":2010.89,"v":-120.2},{"s":"Juventus tuotto","t":2010.97,"v":-115.6},{"s":"Juventus tuotto","t":2011.07,"v":-123.6},{"s":"Juventus tuotto","t":2011.15,"v":-123.2},{"s":"Juventus tuotto","t":2011.23,"v":-130.8},{"s":"Juventus tuotto","t":2011.32,"v":-127.4},{"s":"Juventus tuotto","t":2011.42,"v":-120.7},{"s":"Juventus tuotto","t":2011.52,"v":-125.5},{"s":"Juventus tuotto","t":2011.58,"v":-130.8},{"s":"Juventus tuotto","t":2011.66,"v":-131.1},{"s":"Juventus tuotto","t":2011.73,"v":-141.6},{"s":"Juventus tuotto","t":2011.81,"v":-161.4},{"s":"Juventus tuotto","t":2011.91,"v":-173.6},{"s":"Juventus tuotto","t":2011.99,"v":-144.4},{"s":"Juventus tuotto","t":2012.02,"v":-159.5},{"s":"Juventus tuotto","t":2012.07,"v":-213},{"s":"Juventus tuotto","t":2012.15,"v":-176.5},{"s":"Juventus tuotto","t":2012.23,"v":-183.1},{"s":"Juventus tuotto","t":2012.32,"v":-166.1},{"s":"Juventus tuotto","t":2012.4,"v":-188.8},{"s":"Juventus tuotto","t":2012.5,"v":-194.4},{"s":"Juventus tuotto","t":2012.58,"v":-189.7},{"s":"Juventus tuotto","t":2012.68,"v":-176.5},{"s":"Juventus tuotto","t":2012.74,"v":-174.6},{"s":"Juventus tuotto","t":2012.83,"v":-178.4},{"s":"Juventus tuotto","t":2013.06,"v":-179.3},{"s":"Juventus tuotto","t":2013.31,"v":-178.4},{"s":"Juventus tuotto","t":2013.38,"v":-182.1},{"s":"Juventus tuotto","t":2013.48,"v":-186.9},{"s":"Juventus tuotto","t":2013.59,"v":-186.9},{"s":"Juventus tuotto","t":2013.68,"v":-183.7},{"s":"Juventus tuotto","t":2013.76,"v":-183.7},{"s":"Juventus tuotto","t":2013.83,"v":-167.1},{"s":"Juventus tuotto","t":2013.89,"v":-166.7},{"s":"Juventus tuotto","t":2014.02,"v":-173.6},{"s":"Juventus tuotto","t":2014.1,"v":-172.7},{"s":"Juventus tuotto","t":2014.24,"v":-167.1},{"s":"Juventus tuotto","t":2014.33,"v":-164.8},{"s":"Juventus tuotto","t":2014.5,"v":-172.7},{"s":"Juventus tuotto","t":2014.6,"v":-172.7},{"s":"Juventus tuotto","t":2014.66,"v":-170.5},{"s":"Juventus tuotto","t":2014.81,"v":-174.6},{"s":"Juventus tuotto","t":2014.9,"v":-173.1},{"s":"Juventus tuotto","t":2014.99,"v":-175.6},{"s":"Juventus tuotto","t":2015.16,"v":-167.1},{"s":"Juventus tuotto","t":2015.22,"v":-159.5},{"s":"Juventus tuotto","t":2015.3,"v":-143.4},{"s":"Juventus tuotto","t":2015.39,"v":-145.3},{"s":"Juventus tuotto","t":2015.49,"v":-156.6},{"s":"Juventus tuotto","t":2015.56,"v":-149.1},{"s":"Juventus tuotto","t":2015.66,"v":-163.3},{"s":"Juventus tuotto","t":2015.74,"v":-165.1},{"s":"Juventus tuotto","t":2015.82,"v":-157.6},{"s":"Juventus tuotto","t":2015.92,"v":-155.7},{"s":"Juventus tuotto","t":2016.07,"v":-161.4},{"s":"Juventus tuotto","t":2016.18,"v":-160.4},{"s":"Juventus tuotto","t":2016.31,"v":-160.4},{"s":"Juventus tuotto","t":2016.41,"v":-157.6},{"s":"Juventus tuotto","t":2016.47,"v":-161.4},{"s":"Juventus tuotto","t":2016.56,"v":-147.2},{"s":"Juventus tuotto","t":2016.66,"v":-143.4},{"s":"Juventus tuotto","t":2016.75,"v":-145.3},{"s":"Juventus tuotto","t":2016.9,"v":-150.1},{"s":"Juventus tuotto","t":2016.99,"v":-145.3},{"s":"Juventus tuotto","t":2017.09,"v":-139.6},{"s":"Juventus tuotto","t":2017.16,"v":-123.6},{"s":"Juventus tuotto","t":2017.23,"v":-95.2},{"s":"Juventus tuotto","t":2017.28,"v":-61.2},{"s":"Juventus tuotto","t":2017.33,"v":-40.4},{"s":"Juventus tuotto","t":2017.39,"v":-44},{"s":"Juventus tuotto","t":2017.47,"v":-72.6},{"s":"Juventus tuotto","t":2017.52,"v":-86.7},{"s":"Juventus tuotto","t":2017.59,"v":-72.6},{"s":"Juventus tuotto","t":2017.67,"v":-50},{"s":"Juventus tuotto","t":2017.77,"v":-47.4},{"s":"Juventus tuotto","t":2017.86,"v":-54.1},{"s":"Juventus tuotto","t":2017.92,"v":-58.5},{"s":"Juventus tuotto","t":2018.0,"v":-50.4},{"s":"Juventus tuotto","t":2018.1,"v":-44.4},{"s":"Juventus tuotto","t":2018.18,"v":-56.5},{"s":"Juventus tuotto","t":2018.25,"v":-67.6},{"s":"Juventus tuotto","t":2018.34,"v":-70.2},{"s":"Juventus tuotto","t":2018.43,"v":-75.6},{"s":"Juventus tuotto","t":2018.51,"v":-61.5},{"s":"Juventus tuotto","t":2018.56,"v":-40.3},{"s":"Juventus tuotto","t":2018.61,"v":-18.2},{"s":"Juventus tuotto","t":2018.67,"v":6.5},{"s":"Juventus tuotto","t":2018.72,"v":-16.1},{"s":"Juventus tuotto","t":2018.77,"v":-38.3},{"s":"Juventus tuotto","t":2018.83,"v":-29.9},{"s":"Juventus tuotto","t":2018.87,"v":-24.2},{"s":"Juventus tuotto","t":2018.94,"v":-25.2},{"s":"Juventus tuotto","t":2018.99,"v":-8.1},{"s":"Juventus tuotto","t":2019.04,"v":5},{"s":"Juventus tuotto","t":2019.08,"v":-2},{"s":"Juventus tuotto","t":2019.12,"v":-13.1},{"s":"Juventus tuotto","t":2019.17,"v":6.1},{"s":"Juventus tuotto","t":2019.21,"v":9.7},{"s":"Juventus tuotto","t":2019.25,"v":-8.1},{"s":"Juventus tuotto","t":2019.3,"v":2},{"s":"Juventus tuotto","t":2019.35,"v":9.1},{"s":"Juventus tuotto","t":2019.43,"v":7.7},{"s":"Juventus tuotto","t":2019.51,"v":11.1},{"s":"Juventus tuotto","t":2019.61,"v":6.1},{"s":"Juventus tuotto","t":2019.7,"v":-2},{"s":"Juventus tuotto","t":2019.78,"v":1.4},{"s":"Juventus tuotto","t":2019.91,"v":-1},{"s":"Juventus tuotto","t":2019.99,"v":-5},{"s":"Juventus tuotto","t":2020.06,"v":-14.1},{"s":"Juventus tuotto","t":2020.11,"v":-26.2},{"s":"Juventus tuotto","t":2020.16,"v":-40.3},{"s":"Juventus tuotto","t":2020.2,"v":-48.4},{"s":"Juventus tuotto","t":2020.24,"v":-36.3},{"s":"Juventus tuotto","t":2020.31,"v":-31.3},{"s":"Juventus tuotto","t":2020.43,"v":-31.9},{"s":"Juventus tuotto","t":2020.51,"v":-34.3},{"s":"Juventus tuotto","t":2020.59,"v":-32.3},{"s":"Juventus tuotto","t":2020.69,"v":-39.3},{"s":"Juventus tuotto","t":2020.77,"v":-54.5},{"s":"Juventus tuotto","t":2020.85,"v":-44.4},{"s":"Juventus tuotto","t":2020.95,"v":-44.4},{"s":"Juventus tuotto","t":2021.03,"v":-50},{"s":"Juventus tuotto","t":2021.14,"v":-43.4},{"s":"Juventus tuotto","t":2021.28,"v":-54.5},{"s":"Juventus tuotto","t":2021.34,"v":-51.4},{"s":"Juventus tuotto","t":2021.46,"v":-56.5},{"s":"Juventus tuotto","t":2021.57,"v":-52},{"s":"Juventus tuotto","t":2021.71,"v":-60.5},{"s":"Juventus tuotto","t":2021.78,"v":-84.7},{"s":"Juventus tuotto","t":2021.85,"v":-121},{"s":"Juventus tuotto","t":2021.9,"v":-130.1},{"s":"Juventus tuotto","t":2022.0,"v":-122},{"s":"Juventus tuotto","t":2022.1,"v":-131.1},{"s":"Juventus tuotto","t":2022.24,"v":-140.8},{"s":"Juventus tuotto","t":2022.29,"v":-133.1},{"s":"Juventus tuotto","t":2022.37,"v":-123}
]},
"resolve": {"scale": {"x": "shared", "y": "shared"}, "axis": {"x": "independent", "y": "independent"}},
"layer": [
{
 "data": {"values": [{}]},
 "mark": {"type": "rule", "color": "#777777", "strokeWidth": 1.5},
 "encoding": {"y": {"datum": 0, "type": "quantitative", "scale": {"domain": [-220, 160], "nice": false, "zero": false}, "axis": null}}
},
{
 "data": {"name": "d"},
 "mark": {"type": "line", "opacity": 0},
 "encoding": {
  "x": {"field": "t", "type": "quantitative",
   "scale": {"domain": [2002, 2022.9], "nice": false, "zero": false},
   "axis": {"orient": "bottom", "title": null, "grid": false, "labels": false, "domain": false,
    "values": [2002.25,2002.5,2002.75,2003,2003.25,2003.5,2003.75,2004.25,2004.5,2004.75,2005,2005.25,2005.5,2005.75,2006.25,2006.5,2006.75,2007,2007.25,2007.5,2007.75,2008.25,2008.5,2008.75,2009,2009.25,2009.5,2009.75,2010.25,2010.5,2010.75,2011,2011.25,2011.5,2011.75,2012.25,2012.5,2012.75,2013,2013.25,2013.5,2013.75,2014.25,2014.5,2014.75,2015,2015.25,2015.5,2015.75,2016.25,2016.5,2016.75,2017,2017.25,2017.5,2017.75,2018.25,2018.5,2018.75,2019,2019.25,2019.5,2019.75,2020.25,2020.5,2020.75,2021,2021.25,2021.5,2021.75,2022.25,2022.5,2022.75],
    "tickSize": -5, "tickColor": "#000000", "tickWidth": 1}},
  "y": {"field": "v", "type": "quantitative",
   "scale": {"domain": [-220, 160], "nice": false, "zero": false},
   "axis": {"orient": "left", "title": null, "grid": false, "labels": false, "domain": false,
    "values": [-210,-190,-180,-170,-160,-140,-130,-120,-110,-90,-80,-70,-60,-40,-30,-20,-10,10,20,30,40,60,70,80,90,110,120,130,140,160],
    "tickSize": -5, "tickColor": "#000000", "tickWidth": 1}}
 }
},
{
 "data": {"name": "d"},
 "mark": {"type": "line", "strokeWidth": 1.3, "clip": true},
 "encoding": {
  "x": {"field": "t", "type": "quantitative",
   "scale": {"domain": [2002, 2022.9], "nice": false, "zero": false},
   "axis": {"orient": "bottom", "title": null, "grid": false,
    "values": [2002,2004,2006,2008,2010,2012,2014,2016,2018,2020,2022],
    "labelExpr": "'' + datum.value",
    "labelOverlap": false, "labelFlush": false,
    "tickSize": -10, "labelPadding": 16,
    "domainColor": "#000000", "domainWidth": 1.5, "tickColor": "#000000", "tickWidth": 1,
    "labelColor": "#000000", "labelFont": "Liberation Serif", "labelFontSize": 21.5}},
  "y": {"field": "v", "type": "quantitative",
   "scale": {"domain": [-220, 160], "nice": false, "zero": false},
   "axis": {"orient": "left", "title": null, "grid": false,
    "values": [-200,-150,-100,-50,0,50,100,150],
    "labelExpr": "'' + datum.value",
    "labelOverlap": false, "labelFlush": false,
    "tickSize": -10, "labelPadding": 15,
    "domainColor": "#000000", "domainWidth": 1.5, "tickColor": "#000000", "tickWidth": 1,
    "labelColor": "#000000", "labelFont": "Liberation Serif", "labelFontSize": 21.5}},
  "color": {"field": "s", "type": "nominal",
   "scale": {"domain": ["Dortmund tuotto", "Ajax tuotto", "Juventus tuotto", "Manu tuotto"], "range": ["#ff0000", "#209090", "#0000ff", "#ff00ff"]},
   "legend": {"title": null, "orient": "none", "legendX": 20, "legendY": 13, "columns": 2, "symbolType": "M-1,0H3.9", "symbolSize": 400, "symbolStrokeWidth": 1.3, "labelFont": "Liberation Serif", "labelFontSize": 22.5, "labelColor": "#000000", "labelLimit": 400, "labelOffset": 36, "columnPadding": 16, "rowPadding": 0, "padding": 5, "strokeColor": "#000000", "fillColor": "#ffffff"}},
  "strokeDash": {"field": "s", "type": "nominal",
   "scale": {"domain": ["Dortmund tuotto", "Ajax tuotto", "Juventus tuotto", "Manu tuotto"], "range": [[1, 0], [1, 0], [1, 0], [4, 3]]},
   "legend": {"title": null, "orient": "none", "legendX": 20, "legendY": 13, "columns": 2, "symbolType": "M-1,0H3.9", "symbolSize": 400, "symbolStrokeWidth": 1.3, "labelFont": "Liberation Serif", "labelFontSize": 22.5, "labelColor": "#000000", "labelLimit": 400, "labelOffset": 36, "columnPadding": 16, "rowPadding": 0, "padding": 5, "strokeColor": "#000000", "fillColor": "#ffffff"}}
 }
}
]
}
